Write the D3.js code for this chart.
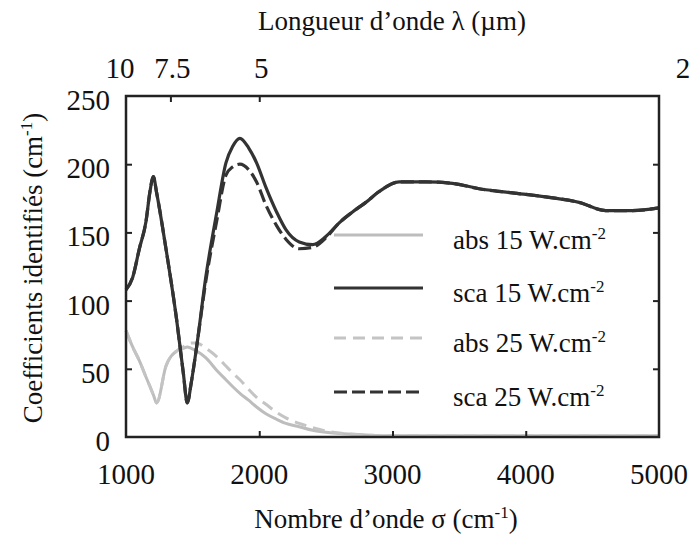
<!DOCTYPE html>
<html>
<head>
<meta charset="utf-8">
<script src="https://cdn.jsdelivr.net/npm/d3@7"></script>
<style>
  body { margin: 0; background: #fff; }
</style>
</head>
<body>
<svg id="chart"></svg>
<script>
// wavenumber samples (cm-1)
const sigma = [1000, 1050, 1100, 1150, 1180, 1205, 1230, 1300, 1380, 1430, 1460, 1490, 1530, 1600,
  1680, 1750, 1800, 1855, 1920, 1980, 2050, 2130, 2200, 2300, 2400, 2500, 2600, 2700, 2800, 2900,
  3050, 3250, 3450, 3650, 3900, 4150, 4400, 4600, 4800, 5000]

const sca15 = [108, 117, 138, 158, 180, 191, 179, 138, 86, 47, 25, 40, 66, 118,
  164, 201, 213, 219, 212, 201, 183, 165, 152, 143, 141, 147, 157, 165, 172, 180,
  187, 187, 186, 182, 179, 176, 172, 166, 166, 168]

const sca25 = [108, 117, 138, 158, 180, 191, 179, 138, 86, 47, 25, 40, 66, 115,
  158, 192, 198, 200, 196, 187, 170, 155, 145, 138, 139, 146, 157, 165, 172, 180,
  187, 187, 186, 182, 179, 176, 172, 166, 166, 168]

const abs15 = [78, 66, 56, 44, 37, 31, 25, 52, 63, 65, 66, 65, 63, 58,
  49, 42, 37, 32, 27, 22, 17, 13, 10, 7.5, 5, 3.5, 2.5, 2, 1.5, 1,
  1, 1, 1, 1, 1, 1, 1, 1, 1, 1]

const abs25 = [78, 66, 56, 44, 37, 31, 25, 52, 63, 66, 68, 69, 69, 65,
  59, 52, 47, 42, 35, 29, 24, 18, 14, 10, 7, 4.5, 3, 2, 1.5, 1,
  1, 1, 1, 1, 1, 1, 1, 1, 1, 1]

const xTicks = [1000, 2000, 3000, 4000, 5000]
const yTicks = [0, 50, 100, 150, 200, 250]
const lambdaTicks = [10, 7.5, 5, 2] // µm

const seriesNames = ['abs', 'sca', 'abs', 'sca']
const seriesPower = ['15', '15', '25', '25']

const W = 696, H = 536
const box = { left: 126, right: 659, top: 96, bottom: 437 }

const svg = d3.select('#chart')
  .attr('width', W)
  .attr('height', H)
  .attr('font-family', 'Liberation Serif')
  .style('font-family', '"Liberation Serif", monospace')

const x = d3.scaleLinear().domain([1000, 5000]).range([box.left, box.right])
const y = d3.scaleLinear().domain([0, 250]).range([box.bottom, box.top])

const styles = [
  { data: abs15, color: '#bdbdbd', width: 3, dash: null },
  { data: sca15, color: '#333', width: 3.2, dash: null },
  { data: abs25, color: '#c4c4c4', width: 3, dash: '12,7' },
  { data: sca25, color: '#333', width: 3.2, dash: '13,5' }
]

const line = d3.line()
  .x(d => x(d[0]))
  .y(d => y(d[1]))
  .curve(d3.curveMonotoneX)

const plot = svg.append('g')

// light curves underneath, dark curves on top
;[0, 2, 1, 3].forEach(i => {
  const s = styles[i]
  plot.append('path')
    .datum(sigma.map((v, j) => [v, s.data[j]]))
    .attr('d', line)
    .attr('fill', 'none')
    .attr('stroke', s.color)
    .attr('stroke-width', s.width)
    .attr('stroke-dasharray', s.dash)
    .attr('stroke-linejoin', 'round')
})

// frame and inward ticks
const axes = svg.append('g').attr('class', 'axes')

axes.append('g')
  .attr('transform', `translate(0, ${box.bottom})`)
  .call(d3.axisTop(x).tickValues(xTicks.slice(1, -1)).tickSize(6).tickFormat(''))
axes.append('g')
  .attr('transform', `translate(0, ${box.top})`)
  .call(d3.axisBottom(x).tickValues(lambdaTicks.slice(1, -1).map(l => 1e4 / l)).tickSize(6).tickFormat(''))
axes.append('g')
  .attr('transform', `translate(${box.left}, 0)`)
  .call(d3.axisRight(y).tickValues(yTicks.slice(1, -1)).tickSize(6).tickFormat(''))
axes.append('g')
  .attr('transform', `translate(${box.right}, 0)`)
  .call(d3.axisLeft(y).tickValues(yTicks.slice(1, -1)).tickSize(6).tickFormat(''))

axes.selectAll('.domain').remove()
axes.selectAll('.tick line').attr('stroke', '#222').attr('stroke-width', 2)

axes.append('rect')
  .attr('x', box.left)
  .attr('y', box.top)
  .attr('width', box.right - box.left)
  .attr('height', box.bottom - box.top)
  .attr('fill', 'none')
  .attr('stroke', '#222')
  .attr('stroke-width', 2.5)

const label = (sel, size) => sel
  .style('font-family', '"Liberation Serif", monospace')
  .style('font-size', size + 'px')
  .style('fill', '#111')

// tick labels
svg.append('g').selectAll('text')
  .data(xTicks)
  .join('text')
  .call(label, 29)
  .attr('x', d => x(d))
  .attr('y', 484)
  .attr('text-anchor', 'middle')
  .text(d => d)

svg.append('g').selectAll('text')
  .data(yTicks)
  .join('text')
  .call(label, 29)
  .attr('x', 110)
  .attr('y', d => y(d) + 14)
  .attr('text-anchor', 'end')
  .text(d => d)

svg.append('g').selectAll('text')
  .data(lambdaTicks)
  .join('text')
  .call(label, 29)
  .attr('x', d => x(1e4 / d) + (d === 10 ? -6 : d === 2 ? 24 : 2))
  .attr('y', 78)
  .attr('text-anchor', 'middle')
  .text(d => d)

// axis titles
svg.append('text')
  .call(label, 27)
  .attr('x', 392)
  .attr('y', 30)
  .attr('text-anchor', 'middle')
  .text('Longueur d\u2019onde  \u03bb (\u00b5m)')

const bottomTitle = svg.append('text')
  .call(label, 27)
  .attr('x', 386)
  .attr('y', 528)
  .attr('text-anchor', 'middle')
bottomTitle.append('tspan').text('Nombre d\u2019onde \u03c3 (cm')
bottomTitle.append('tspan').attr('dy', -10).style('font-size', '17px').text('-1')
bottomTitle.append('tspan').attr('dy', 10).text(')')

const yTitle = svg.append('text')
  .call(label, 27)
  .attr('transform', 'translate(42, 268) rotate(-90)')
  .attr('text-anchor', 'middle')
yTitle.append('tspan').text('Coefficients  identifi\u00e9s  (cm')
yTitle.append('tspan').attr('dy', -10).style('font-size', '17px').text('-1')
yTitle.append('tspan').attr('dy', 10).text(')')

// legend
const legend = svg.append('g')
const legendY = [235, 288, 338, 392]

legendY.forEach((ly, i) => {
  const s = styles[i]
  legend.append('line')
    .attr('x1', 334).attr('x2', 423)
    .attr('y1', ly).attr('y2', ly)
    .attr('stroke', s.color)
    .attr('stroke-width', s.width)
    .attr('stroke-dasharray', s.dash)

  const t = legend.append('text')
    .call(label, 27)
    .attr('x', 453)
    .attr('y', ly + 14)
  t.append('tspan').text(`${seriesNames[i]} ${seriesPower[i]} W.cm`)
  t.append('tspan').attr('dy', -10).style('font-size', '17px').text('-2')
})
</script>
</body>
</html>
